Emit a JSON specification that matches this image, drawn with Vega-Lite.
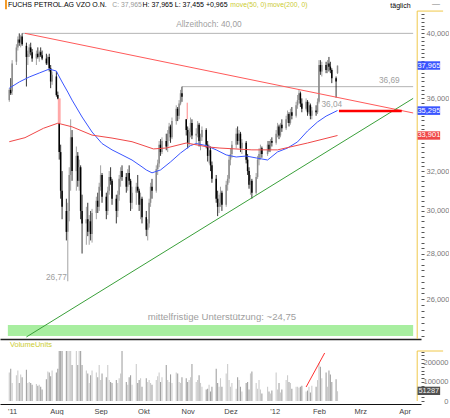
{
"$schema": "https://vega.github.io/schema/vega-lite/v6.json",
"padding": 0,
"bounds": "flush",
"spacing": 12,
"config": {"font": "Liberation Sans", "view": {"stroke": null}},
"resolve": {"scale": {"x": "independent", "y": "independent"}, "axis": {"x": "independent", "y": "independent"}},
"datasets": {
"cd": [
{"d":"2011-06-29","o":35.9,"h":36.6,"l":35.8,"c":36.5,"v":150000},
{"d":"2011-06-30","o":36.5,"h":37.2,"l":36.2,"c":36.3,"v":170000},
{"d":"2011-07-01","o":36.4,"h":38.3,"l":36.2,"c":38.1,"v":95000},
{"d":"2011-07-04","o":38.2,"h":39.3,"l":38.0,"c":39.1,"v":135000},
{"d":"2011-07-05","o":39.1,"h":39.8,"l":38.9,"c":39.6,"v":160000},
{"d":"2011-07-06","o":39.6,"h":40.0,"l":39.2,"c":39.4,"v":95000},
{"d":"2011-07-07","o":39.4,"h":39.9,"l":39.1,"c":39.8,"v":140000},
{"d":"2011-07-08","o":39.8,"h":40.0,"l":39.2,"c":39.3,"v":125000},
{"d":"2011-07-11","o":39.2,"h":39.4,"l":36.7,"c":38.5,"v":165000},
{"d":"2011-07-12","o":38.5,"h":38.9,"l":38.0,"c":38.7,"v":95000},
{"d":"2011-07-13","o":38.7,"h":39.3,"l":38.5,"c":39.1,"v":100000},
{"d":"2011-07-14","o":39.1,"h":39.4,"l":38.6,"c":38.8,"v":95000},
{"d":"2011-07-15","o":38.8,"h":39.0,"l":38.2,"c":38.4,"v":85000},
{"d":"2011-07-18","o":38.4,"h":38.9,"l":38.0,"c":38.7,"v":90000},
{"d":"2011-07-19","o":38.7,"h":39.1,"l":38.4,"c":38.5,"v":80000},
{"d":"2011-07-20","o":38.5,"h":38.9,"l":38.2,"c":38.8,"v":85000},
{"d":"2011-07-21","o":38.8,"h":39.1,"l":38.5,"c":38.6,"v":75000},
{"d":"2011-07-22","o":38.6,"h":38.9,"l":38.3,"c":38.4,"v":60000},
{"d":"2011-07-25","o":38.4,"h":38.7,"l":38.0,"c":38.1,"v":115000},
{"d":"2011-07-26","o":38.1,"h":38.6,"l":38.0,"c":38.5,"v":155000},
{"d":"2011-07-27","o":38.5,"h":38.7,"l":37.6,"c":37.8,"v":150000},
{"d":"2011-07-28","o":37.8,"h":38.0,"l":36.6,"c":37.0,"v":130000},
{"d":"2011-07-29","o":37.0,"h":37.6,"l":36.8,"c":37.4,"v":160000},
{"d":"2011-08-01","o":37.3,"h":37.6,"l":36.1,"c":36.2,"v":150000},
{"d":"2011-08-02","o":36.2,"h":36.4,"l":35.95,"c":36.0,"v":170000},
{"d":"2011-08-03","o":34.6,"h":34.6,"l":32.6,"c":33.0,"v":300000},
{"d":"2011-08-04","o":33.0,"h":33.4,"l":30.6,"c":31.0,"v":320000},
{"d":"2011-08-05","o":31.0,"h":32.0,"l":29.6,"c":30.2,"v":350000},
{"d":"2011-08-08","o":30.0,"h":30.6,"l":28.6,"c":29.0,"v":400000},
{"d":"2011-08-09","o":29.0,"h":30.4,"l":26.77,"c":30.0,"v":380000},
{"d":"2011-08-10","o":30.0,"h":32.2,"l":29.5,"c":31.8,"v":300000},
{"d":"2011-08-11","o":31.8,"h":34.8,"l":31.0,"c":33.8,"v":290000},
{"d":"2011-08-12","o":33.8,"h":34.2,"l":31.5,"c":32.0,"v":190000},
{"d":"2011-08-15","o":32.0,"h":33.3,"l":31.0,"c":32.8,"v":280000},
{"d":"2011-08-16","o":32.8,"h":33.0,"l":31.2,"c":31.5,"v":190000},
{"d":"2011-08-17","o":31.5,"h":32.6,"l":31.0,"c":32.2,"v":270000},
{"d":"2011-08-18","o":32.2,"h":32.3,"l":29.6,"c":30.0,"v":300000},
{"d":"2011-08-19","o":30.0,"h":30.8,"l":28.0,"c":29.4,"v":190000},
{"d":"2011-08-22","o":29.4,"h":30.2,"l":28.4,"c":29.6,"v":160000},
{"d":"2011-08-23","o":29.6,"h":30.4,"l":28.8,"c":29.0,"v":145000},
{"d":"2011-08-24","o":29.0,"h":29.8,"l":28.4,"c":29.5,"v":95000},
{"d":"2011-08-25","o":29.5,"h":30.0,"l":28.6,"c":28.9,"v":135000},
{"d":"2011-08-26","o":28.9,"h":30.1,"l":28.5,"c":29.9,"v":160000},
{"d":"2011-08-29","o":29.9,"h":30.7,"l":29.6,"c":30.5,"v":150000},
{"d":"2011-08-30","o":30.5,"h":30.9,"l":29.9,"c":30.2,"v":125000},
{"d":"2011-08-31","o":30.2,"h":31.4,"l":30.0,"c":31.2,"v":190000},
{"d":"2011-09-01","o":31.2,"h":32.3,"l":31.0,"c":31.8,"v":110000},
{"d":"2011-09-02","o":31.8,"h":31.9,"l":30.4,"c":30.7,"v":145000},
{"d":"2011-09-05","o":30.7,"h":30.9,"l":29.6,"c":30.0,"v":125000},
{"d":"2011-09-06","o":30.0,"h":31.2,"l":29.8,"c":31.0,"v":190000},
{"d":"2011-09-07","o":31.0,"h":32.0,"l":30.8,"c":31.7,"v":110000},
{"d":"2011-09-08","o":31.7,"h":32.2,"l":31.3,"c":31.5,"v":100000},
{"d":"2011-09-09","o":31.5,"h":31.6,"l":30.3,"c":30.6,"v":95000},
{"d":"2011-09-12","o":30.6,"h":30.8,"l":29.4,"c":30.0,"v":110000},
{"d":"2011-09-13","o":30.0,"h":31.0,"l":29.7,"c":30.8,"v":95000},
{"d":"2011-09-14","o":30.8,"h":31.8,"l":30.5,"c":31.6,"v":120000},
{"d":"2011-09-15","o":31.6,"h":32.2,"l":31.2,"c":32.0,"v":145000},
{"d":"2011-09-16","o":32.0,"h":32.3,"l":31.5,"c":31.7,"v":280000},
{"d":"2011-09-19","o":31.7,"h":31.9,"l":30.9,"c":31.2,"v":100000},
{"d":"2011-09-20","o":31.2,"h":32.1,"l":31.0,"c":31.9,"v":85000},
{"d":"2011-09-21","o":31.9,"h":32.3,"l":31.3,"c":31.5,"v":125000},
{"d":"2011-09-22","o":31.5,"h":31.6,"l":30.0,"c":30.4,"v":135000},
{"d":"2011-09-23","o":30.4,"h":31.2,"l":30.1,"c":30.9,"v":85000},
{"d":"2011-09-26","o":30.9,"h":31.4,"l":30.3,"c":31.2,"v":195000},
{"d":"2011-09-27","o":31.2,"h":31.8,"l":30.9,"c":31.0,"v":95000},
{"d":"2011-09-28","o":31.0,"h":31.1,"l":30.0,"c":30.3,"v":110000},
{"d":"2011-09-29","o":30.3,"h":30.9,"l":29.6,"c":30.6,"v":120000},
{"d":"2011-09-30","o":30.6,"h":30.7,"l":29.4,"c":29.7,"v":75000},
{"d":"2011-10-03","o":29.7,"h":30.0,"l":28.8,"c":29.1,"v":120000},
{"d":"2011-10-04","o":29.1,"h":29.6,"l":28.6,"c":29.4,"v":100000},
{"d":"2011-10-05","o":29.4,"h":30.6,"l":29.2,"c":30.4,"v":110000},
{"d":"2011-10-06","o":30.4,"h":31.4,"l":30.2,"c":31.2,"v":95000},
{"d":"2011-10-07","o":31.2,"h":31.6,"l":30.6,"c":31.0,"v":85000},
{"d":"2011-10-10","o":31.0,"h":32.3,"l":30.9,"c":32.1,"v":110000},
{"d":"2011-10-11","o":32.1,"h":32.6,"l":31.8,"c":32.4,"v":130000},
{"d":"2011-10-12","o":32.4,"h":33.6,"l":32.2,"c":33.4,"v":150000},
{"d":"2011-10-13","o":33.4,"h":33.7,"l":32.8,"c":33.0,"v":100000},
{"d":"2011-10-14","o":33.0,"h":33.8,"l":32.9,"c":33.6,"v":125000},
{"d":"2011-10-17","o":33.6,"h":34.0,"l":33.1,"c":33.3,"v":190000},
{"d":"2011-10-18","o":33.3,"h":34.2,"l":33.0,"c":34.0,"v":110000},
{"d":"2011-10-19","o":34.0,"h":34.6,"l":33.6,"c":34.4,"v":100000},
{"d":"2011-10-20","o":34.4,"h":34.5,"l":33.5,"c":33.8,"v":140000},
{"d":"2011-10-21","o":33.8,"h":34.9,"l":33.7,"c":34.7,"v":95000},
{"d":"2011-10-24","o":34.7,"h":35.6,"l":34.5,"c":35.4,"v":150000},
{"d":"2011-10-25","o":35.4,"h":35.5,"l":34.7,"c":35.0,"v":145000},
{"d":"2011-10-26","o":35.0,"h":35.9,"l":34.8,"c":35.7,"v":100000},
{"d":"2011-10-27","o":35.7,"h":36.5,"l":35.6,"c":36.3,"v":95000},
{"d":"2011-10-28","o":36.3,"h":36.69,"l":35.8,"c":36.1,"v":125000},
{"d":"2011-10-31","o":34.8,"h":34.8,"l":33.9,"c":34.2,"v":120000},
{"d":"2011-11-01","o":34.2,"h":34.4,"l":33.2,"c":33.5,"v":100000},
{"d":"2011-11-02","o":33.5,"h":34.3,"l":33.3,"c":34.1,"v":110000},
{"d":"2011-11-03","o":34.1,"h":34.9,"l":33.8,"c":34.6,"v":125000},
{"d":"2011-11-04","o":34.6,"h":34.8,"l":33.7,"c":33.9,"v":195000},
{"d":"2011-11-07","o":33.9,"h":34.3,"l":33.4,"c":34.0,"v":100000},
{"d":"2011-11-08","o":34.0,"h":34.7,"l":33.8,"c":34.5,"v":110000},
{"d":"2011-11-09","o":34.5,"h":34.6,"l":33.3,"c":33.6,"v":135000},
{"d":"2011-11-10","o":33.6,"h":34.0,"l":33.1,"c":33.8,"v":95000},
{"d":"2011-11-11","o":33.8,"h":34.4,"l":33.6,"c":34.2,"v":75000},
{"d":"2011-11-14","o":34.2,"h":34.3,"l":33.2,"c":33.4,"v":60000},
{"d":"2011-11-15","o":33.4,"h":33.6,"l":32.5,"c":32.8,"v":65000},
{"d":"2011-11-16","o":32.8,"h":33.4,"l":32.4,"c":33.1,"v":85000},
{"d":"2011-11-17","o":33.1,"h":33.3,"l":32.0,"c":32.3,"v":50000},
{"d":"2011-11-18","o":32.3,"h":32.5,"l":31.4,"c":31.6,"v":75000},
{"d":"2011-11-21","o":31.6,"h":31.8,"l":30.4,"c":30.6,"v":170000},
{"d":"2011-11-22","o":30.6,"h":31.0,"l":29.75,"c":30.2,"v":95000},
{"d":"2011-11-23","o":30.2,"h":30.8,"l":29.9,"c":30.4,"v":75000},
{"d":"2011-11-24","o":30.4,"h":31.2,"l":30.2,"c":30.9,"v":120000},
{"d":"2011-11-25","o":30.9,"h":31.0,"l":30.0,"c":30.3,"v":75000},
{"d":"2011-11-28","o":30.3,"h":31.5,"l":30.2,"c":31.3,"v":145000},
{"d":"2011-11-29","o":31.3,"h":31.8,"l":31.0,"c":31.6,"v":195000},
{"d":"2011-11-30","o":31.6,"h":32.8,"l":31.4,"c":32.6,"v":110000},
{"d":"2011-12-01","o":32.6,"h":33.2,"l":32.3,"c":32.9,"v":75000},
{"d":"2011-12-02","o":32.9,"h":33.6,"l":32.7,"c":33.4,"v":95000},
{"d":"2011-12-05","o":33.4,"h":34.3,"l":33.2,"c":34.0,"v":65000},
{"d":"2011-12-06","o":34.0,"h":34.4,"l":33.4,"c":33.6,"v":125000},
{"d":"2011-12-07","o":33.6,"h":34.2,"l":33.4,"c":34.0,"v":110000},
{"d":"2011-12-08","o":34.0,"h":34.1,"l":33.0,"c":33.2,"v":75000},
{"d":"2011-12-09","o":33.2,"h":33.7,"l":32.9,"c":33.5,"v":50000},
{"d":"2011-12-12","o":33.5,"h":33.6,"l":32.4,"c":32.6,"v":95000},
{"d":"2011-12-13","o":32.6,"h":32.9,"l":31.8,"c":32.0,"v":100000},
{"d":"2011-12-14","o":32.0,"h":32.2,"l":31.1,"c":31.3,"v":60000},
{"d":"2011-12-15","o":31.3,"h":31.8,"l":30.8,"c":31.5,"v":145000},
{"d":"2011-12-16","o":31.5,"h":31.6,"l":30.6,"c":30.9,"v":155000},
{"d":"2011-12-19","o":30.9,"h":31.9,"l":30.8,"c":31.7,"v":95000},
{"d":"2011-12-20","o":31.7,"h":32.8,"l":31.6,"c":32.6,"v":65000},
{"d":"2011-12-21","o":32.6,"h":33.2,"l":32.3,"c":32.9,"v":110000},
{"d":"2011-12-22","o":32.9,"h":33.4,"l":32.6,"c":33.2,"v":60000},
{"d":"2011-12-23","o":33.2,"h":33.3,"l":32.7,"c":32.9,"v":40000},
{"d":"2011-12-27","o":32.9,"h":33.6,"l":32.8,"c":33.4,"v":75000},
{"d":"2011-12-28","o":33.4,"h":33.6,"l":33.0,"c":33.1,"v":50000},
{"d":"2011-12-29","o":33.1,"h":33.7,"l":33.0,"c":33.6,"v":40000},
{"d":"2011-12-30","o":33.6,"h":33.8,"l":33.3,"c":33.5,"v":55000},
{"d":"2012-01-02","o":33.5,"h":34.2,"l":33.4,"c":34.0,"v":150000},
{"d":"2012-01-03","o":34.0,"h":34.6,"l":33.8,"c":34.4,"v":60000},
{"d":"2012-01-04","o":34.4,"h":34.5,"l":33.7,"c":33.9,"v":95000},
{"d":"2012-01-05","o":33.9,"h":34.6,"l":33.8,"c":34.5,"v":45000},
{"d":"2012-01-06","o":34.5,"h":34.8,"l":34.1,"c":34.3,"v":60000},
{"d":"2012-01-09","o":34.3,"h":35.0,"l":34.2,"c":34.8,"v":110000},
{"d":"2012-01-10","o":34.8,"h":35.3,"l":34.6,"c":35.1,"v":135000},
{"d":"2012-01-11","o":35.1,"h":35.2,"l":34.4,"c":34.6,"v":100000},
{"d":"2012-01-12","o":34.6,"h":35.4,"l":34.5,"c":35.2,"v":95000},
{"d":"2012-01-13","o":35.2,"h":35.5,"l":34.8,"c":35.0,"v":65000},
{"d":"2012-01-16","o":35.0,"h":35.8,"l":34.9,"c":35.6,"v":75000},
{"d":"2012-01-17","o":35.6,"h":36.2,"l":35.4,"c":35.9,"v":75000},
{"d":"2012-01-18","o":35.9,"h":36.5,"l":35.7,"c":36.3,"v":70000},
{"d":"2012-01-19","o":36.3,"h":36.4,"l":35.5,"c":35.7,"v":75000},
{"d":"2012-01-20","o":35.7,"h":36.0,"l":35.2,"c":35.4,"v":80000},
{"d":"2012-01-23","o":35.4,"h":36.0,"l":35.3,"c":35.8,"v":50000},
{"d":"2012-01-24","o":35.8,"h":35.9,"l":35.0,"c":35.2,"v":55000},
{"d":"2012-01-25","o":35.2,"h":35.8,"l":35.1,"c":35.6,"v":75000},
{"d":"2012-01-26","o":35.6,"h":35.7,"l":34.8,"c":35.0,"v":45000},
{"d":"2012-01-27","o":35.0,"h":35.5,"l":34.8,"c":35.3,"v":80000},
{"d":"2012-01-30","o":35.3,"h":35.6,"l":35.0,"c":35.2,"v":75000},
{"d":"2012-01-31","o":35.2,"h":36.0,"l":35.1,"c":35.8,"v":110000},
{"d":"2012-02-01","o":35.8,"h":38.3,"l":35.7,"c":38.0,"v":200000},
{"d":"2012-02-02","o":38.0,"h":38.3,"l":37.4,"c":37.6,"v":180000},
{"d":"2012-02-03","o":37.6,"h":38.2,"l":37.3,"c":38.0,"v":120000},
{"d":"2012-02-06","o":38.0,"h":38.2,"l":37.5,"c":37.7,"v":150000},
{"d":"2012-02-07","o":37.7,"h":38.3,"l":37.5,"c":38.1,"v":75000},
{"d":"2012-02-08","o":38.1,"h":38.5,"l":37.6,"c":37.9,"v":160000},
{"d":"2012-02-09","o":37.9,"h":38.2,"l":37.5,"c":37.7,"v":140000},
{"d":"2012-02-10","o":37.7,"h":37.8,"l":36.9,"c":37.2,"v":100000},
{"d":"2012-02-13","o":37.2,"h":37.3,"l":36.04,"c":37.0,"v":115000},
{"d":"2012-02-14","o":37.5,"h":37.965,"l":37.455,"c":37.965,"v":51287}
],
"lines": [
{"d":"2011-06-29","p":36.6,"s":"ma50"},{"d":"2011-07-06","p":36.97,"s":"ma50"},{"d":"2011-07-13","p":37.27,"s":"ma50"},{"d":"2011-07-20","p":37.51,"s":"ma50"},{"d":"2011-07-27","p":37.75,"s":"ma50"},{"d":"2011-08-01","p":37.63,"s":"ma50"},{"d":"2011-08-02","p":37.45,"s":"ma50"},{"d":"2011-08-05","p":36.97,"s":"ma50"},{"d":"2011-08-09","p":36.37,"s":"ma50"},{"d":"2011-08-12","p":35.9,"s":"ma50"},{"d":"2011-08-19","p":34.93,"s":"ma50"},{"d":"2011-08-26","p":34.09,"s":"ma50"},{"d":"2011-09-02","p":33.46,"s":"ma50"},{"d":"2011-09-09","p":33.12,"s":"ma50"},{"d":"2011-09-16","p":32.85,"s":"ma50"},{"d":"2011-09-23","p":32.58,"s":"ma50"},{"d":"2011-09-30","p":32.22,"s":"ma50"},{"d":"2011-10-03","p":32.06,"s":"ma50"},{"d":"2011-10-07","p":31.91,"s":"ma50"},{"d":"2011-10-13","p":32.06,"s":"ma50"},{"d":"2011-10-20","p":32.48,"s":"ma50"},{"d":"2011-10-27","p":32.95,"s":"ma50"},{"d":"2011-11-03","p":33.35,"s":"ma50"},{"d":"2011-11-07","p":33.46,"s":"ma50"},{"d":"2011-11-14","p":33.35,"s":"ma50"},{"d":"2011-11-21","p":33.12,"s":"ma50"},{"d":"2011-11-28","p":32.85,"s":"ma50"},{"d":"2011-12-05","p":32.74,"s":"ma50"},{"d":"2011-12-12","p":32.79,"s":"ma50"},{"d":"2011-12-19","p":32.69,"s":"ma50"},{"d":"2011-12-27","p":32.58,"s":"ma50"},{"d":"2012-01-03","p":33.01,"s":"ma50"},{"d":"2012-01-10","p":33.22,"s":"ma50"},{"d":"2012-01-17","p":33.55,"s":"ma50"},{"d":"2012-01-24","p":34.15,"s":"ma50"},{"d":"2012-01-31","p":34.65,"s":"ma50"},{"d":"2012-02-06","p":34.98,"s":"ma50"},{"d":"2012-02-14","p":35.3,"s":"ma50"},
{"d":"2011-06-29","p":33.56,"s":"ma200"},{"d":"2011-07-10","p":33.78,"s":"ma200"},{"d":"2011-07-23","p":34.3,"s":"ma200"},{"d":"2011-08-02","p":34.58,"s":"ma200"},{"d":"2011-08-12","p":34.38,"s":"ma200"},{"d":"2011-08-26","p":33.92,"s":"ma200"},{"d":"2011-09-09","p":33.76,"s":"ma200"},{"d":"2011-09-23","p":33.56,"s":"ma200"},{"d":"2011-09-30","p":33.38,"s":"ma200"},{"d":"2011-10-08","p":33.17,"s":"ma200"},{"d":"2011-10-17","p":33.22,"s":"ma200"},{"d":"2011-10-31","p":33.49,"s":"ma200"},{"d":"2011-11-15","p":33.28,"s":"ma200"},{"d":"2011-11-23","p":33.22,"s":"ma200"},{"d":"2011-12-16","p":33.12,"s":"ma200"},{"d":"2012-01-03","p":33.12,"s":"ma200"},{"d":"2012-01-24","p":33.49,"s":"ma200"},{"d":"2012-02-14","p":33.9,"s":"ma200"},
{"d":"2011-07-10","p":40.0,"s":"down"},{"d":"2012-04-07","p":35.16,"s":"down"},
{"d":"2011-07-11","p":24.46,"s":"up"},{"d":"2012-04-07","p":36.0,"s":"up"}
]
},
"vconcat": [
{
"width": 421, "height": 339,
"encoding": {
"x": {"field": "d", "type": "temporal", "title": null,
 "scale": {"domain": [{"year": 2011, "month": 6, "date": 26}, {"year": 2012, "month": 4, "date": 9}], "nice": false},
 "axis": {"labels": false, "ticks": false, "domain": true, "domainColor": "#222222", "domainWidth": 1.5, "grid": false, "title": null}},
"y": {"field": "p", "type": "quantitative", "title": null,
 "scale": {"type": "log", "domain": [24.38, 42.22], "nice": false, "zero": false},
 "axis": {"orient": "right", "title": null, "grid": false, "domain": false, "zindex": 0,
  "values": [24.5,24.75,25,25.25,25.5,25.75,26,26.25,26.5,26.75,27,27.25,27.5,27.75,28,28.25,28.5,28.75,29,29.25,29.5,29.75,30,30.25,30.5,30.75,31,31.25,31.5,31.75,32,32.25,32.5,32.75,33,33.25,33.5,33.75,34,34.25,34.5,34.75,35,35.25,35.5,35.75,36,36.25,36.5,36.75,37,37.25,37.5,37.75,38,38.25,38.5,38.75,39,39.25,39.5,39.75,40,40.25,40.5,40.75,41,41.25],
  "labelExpr": "indexof([26,28,30,32,36,40], datum.value) >= 0 ? replace(format(datum.value, '.3f'), '.', ',') : ''",
  "tickSize": 3, "tickColor": "#555555", "tickWidth": 1, "labelPadding": 2, "labelFontSize": 7.5, "labelColor": "#7a7a7a",
  "labelOverlap": false, "labelBound": false, "labelFlush": false}}
},
"layer": [
{"data": {"values": [{"d": "2011-06-28", "d2": "2012-04-07", "p": 24.5, "p2": 24.94}]},
 "mark": {"type": "rect", "color": "#a8eea0"}, "encoding": {"x2": {"field": "d2"}, "y2": {"field": "p2"}}},
{"data": {"values": [{"d": "2011-08-02", "d2": "2011-08-04", "p": 34.6, "p2": 36.0}, {"d": "2011-10-31T06:00", "d2": "2011-11-01T06:00", "p": 34.8, "p2": 35.75}]},
 "mark": {"type": "rect", "color": "#ffa8a8"}, "encoding": {"x2": {"field": "d2"}, "y2": {"field": "p2"}}},
{"data": {"values": [{"d": "2011-07-08", "d2": "2012-04-07", "p": 40.0}, {"d": "2011-10-28", "d2": "2012-04-07", "p": 36.69}]},
 "mark": {"type": "rule", "color": "#b4b4b4", "strokeWidth": 1}, "encoding": {"x2": {"field": "d2"}}},
{"data": {"name": "cd"},
 "mark": {"type": "rule", "strokeWidth": 0.8},
 "encoding": {"y": {"field": "l", "type": "quantitative", "title": null}, "y2": {"field": "h"},
  "color": {"condition": {"test": "datum.c >= datum.o", "value": "#8a8a8a"}, "value": "#000000"}}},
{"data": {"name": "cd"},
 "mark": {"type": "bar", "size": 1.5},
 "encoding": {"y": {"field": "o", "type": "quantitative", "title": null}, "y2": {"field": "c"},
  "color": {"condition": {"test": "datum.c >= datum.o", "value": "#8a8a8a"}, "value": "#000000"}}},
{"data": {"name": "lines"},
 "mark": {"type": "line", "strokeWidth": 1},
 "encoding": {"color": {"field": "s", "type": "nominal", "legend": null,
  "scale": {"domain": ["ma50", "ma200", "down", "up"], "range": ["#3a55ff", "#f04848", "#ff5a5a", "#3aa03a"]}}}},
{"data": {"values": [{"d": "2012-02-15", "d2": "2012-03-30", "p": 35.27}]},
 "mark": {"type": "rule", "color": "#ff0000", "strokeWidth": 2.5}, "encoding": {"x2": {"field": "d2"}}},
{"data": {"values": [
  {"d": "2011-11-15T21:00", "p": 40.54, "t": "Allzeithoch: 40,00"},
  {"d": "2012-03-21T07:00", "p": 37.03, "t": "36,69"},
  {"d": "2012-02-10", "p": 35.62, "t": "36,04"},
  {"d": "2011-08-01", "p": 26.91, "t": "26,77"}]},
 "mark": {"type": "text", "align": "center", "baseline": "middle", "fontSize": 8.3, "color": "#a0a0a0"},
 "encoding": {"text": {"field": "t"}}},
{"data": {"values": [
  {"d": "2011-11-25", "p": 25.27, "t": "mittelfristige Unterstützung: ~24,75"}]},
 "mark": {"type": "text", "align": "center", "baseline": "middle", "fontSize": 9.6, "color": "#a0a0a0"},
 "encoding": {"text": {"field": "t"}}},
{"data": {"values": [
  {"d": "2011-06-28T01:00", "p": 41.86, "t": "FUCHS PETROL.AG VZO O.N."},
  {"d": "2011-09-30T08:00", "p": 41.86, "t": "H: 37,965 L: 37,455 +0,965"},
  {"d": "2012-03-22", "p": 41.83, "t": "täglich"}]},
 "mark": {"type": "text", "align": "left", "baseline": "middle", "fontSize": 7, "color": "#000000"},
 "encoding": {"text": {"field": "t"}}},
{"data": {"values": [{"d": "2011-09-09T05:00", "p": 41.86, "t": "C: 37,965"}]},
 "mark": {"type": "text", "align": "left", "baseline": "middle", "fontSize": 6.8, "color": "#999999"},
 "encoding": {"text": {"field": "t"}}},
{"data": {"values": [{"d": "2011-11-30T21:00", "p": 41.86, "t": "move(50, 0)"}, {"d": "2011-12-26T21:00", "p": 41.86, "t": "move(200, 0)"}]},
 "mark": {"type": "text", "align": "left", "baseline": "middle", "fontSize": 6.8, "color": "#cccc33"},
 "encoding": {"text": {"field": "t"}}},
{"data": {"values": [{"d": "2012-04-23", "p": 41.94, "t": "—"}]},
 "mark": {"type": "text", "align": "center", "baseline": "middle", "fontSize": 8, "color": "#777777"},
 "encoding": {"text": {"field": "t"}}},
{"data": {"values": [{"d": "2011-06-26", "d2": "2011-06-27T09:00", "p": 41.6, "p2": 42.22}]},
 "mark": {"type": "rect", "color": "#f59a23"}, "encoding": {"x2": {"field": "d2"}, "y2": {"field": "p2"}}},
{"data": {"values": [{"d": "2012-04-09T20:00", "p": 24.38, "p2": 41.47}]},
 "mark": {"type": "rule", "color": "#f0c84a", "strokeWidth": 1}, "encoding": {"y2": {"field": "p2"}}},
{"data": {"values": [{"d": "2012-04-09T20:00", "d2": "2012-04-28", "p": 41.47}]},
 "mark": {"type": "rule", "color": "#f0c84a", "strokeWidth": 1}, "encoding": {"x2": {"field": "d2"}}},
{"data": {"values": [
  {"d": "2012-04-10T02:00", "d2": "2012-04-25T22:00", "p": 37.71, "p2": 38.23, "k": "close"},
  {"d": "2012-04-10T02:00", "d2": "2012-04-25T22:00", "p": 35.05, "p2": 35.54, "k": "ma50"},
  {"d": "2012-04-10T02:00", "d2": "2012-04-25T22:00", "p": 33.67, "p2": 34.13, "k": "ma200"}]},
 "mark": {"type": "rect"},
 "encoding": {"x2": {"field": "d2"}, "y2": {"field": "p2"},
  "color": {"field": "k", "type": "nominal", "legend": null, "scale": {"domain": ["close", "ma50", "ma200"], "range": ["#585858", "#0a0aee", "#ee1010"]}}}},
{"data": {"values": [
  {"d": "2012-04-18", "p": 37.965, "t": "37,965"},
  {"d": "2012-04-18", "p": 35.295, "t": "35,295"},
  {"d": "2012-04-18", "p": 33.901, "t": "33,901"}]},
 "mark": {"type": "text", "align": "center", "baseline": "middle", "fontSize": 7.5, "color": "#ffffff"},
 "encoding": {"text": {"field": "t"}}}
]
},
{
"width": 421, "height": 50,
"encoding": {
"x": {"field": "d", "type": "temporal", "title": null,
 "scale": {"domain": [{"year": 2011, "month": 6, "date": 26}, {"year": 2012, "month": 4, "date": 9}], "nice": false},
 "axis": {"orient": "bottom", "offset": 3, "ticks": false, "domain": true, "domainColor": "#111111", "domainWidth": 1.2, "grid": false, "title": null,
  "values": [{"year": 2011, "month": 7, "date": 1}, {"year": 2011, "month": 8, "date": 1}, {"year": 2011, "month": 9, "date": 1}, {"year": 2011, "month": 10, "date": 1}, {"year": 2011, "month": 11, "date": 1}, {"year": 2011, "month": 12, "date": 1}, {"year": 2012, "month": 1, "date": 1}, {"year": 2012, "month": 2, "date": 1}, {"year": 2012, "month": 3, "date": 1}, {"year": 2012, "month": 4, "date": 1}],
  "labelExpr": "month(datum.value) == 6 ? \"'11\" : (month(datum.value) == 0 ? \"'12\" : ['Jan','Feb','Mrz','Apr','Mai','Jun','Jul','Aug','Sep','Okt','Nov','Dez'][month(datum.value)])",
  "labelFontSize": 7.5, "labelColor": "#444444", "labelPadding": 3, "labelFlush": false, "labelOverlap": false, "labelAlign": "center"}},
"y": {"field": "v", "type": "quantitative", "title": null,
 "scale": {"domain": [0, 263000], "nice": false, "zero": true},
 "axis": {"orient": "right", "title": null, "grid": false, "domain": false, "zindex": 0,
  "values": [0,20000,40000,60000,80000,100000,120000,140000,160000,180000,200000,220000,240000,260000],
  "labelExpr": "(datum.value == 0 || datum.value == 100000 || datum.value == 200000) ? format(datum.value, 'd') : ''",
  "tickSize": 3, "tickColor": "#555555", "labelAlign": "right", "labelPadding": 24, "labelFontSize": 7.5, "labelColor": "#7a7a7a",
  "labelOverlap": false, "labelBound": false, "labelFlush": false}}
},
"layer": [
{"data": {"name": "cd"},
 "mark": {"type": "bar", "size": 1.1, "clip": true},
 "encoding": {"color": {"condition": {"test": "datum.c >= datum.o", "value": "#cccccc"}, "value": "#a2a2a2"}}},
{"data": {"values": [{"d": "2012-01-23", "v": 73600}, {"d": "2012-02-05", "v": 252500}]},
 "mark": {"type": "line", "color": "#ff3030", "strokeWidth": 1}, "encoding": {}},
{"data": {"values": [{"d": "2011-06-29T10:00", "v": 294000, "t": "VolumeUnits"}]},
 "mark": {"type": "text", "align": "left", "baseline": "middle", "fontSize": 7.5, "color": "#cccc33"},
 "encoding": {"text": {"field": "t"}}},
{"data": {"values": [{"d": "2012-04-09T20:00", "v": 0, "v2": 263000}]},
 "mark": {"type": "rule", "color": "#f0c84a", "strokeWidth": 1}, "encoding": {"y2": {"field": "v2"}}},
{"data": {"values": [{"d": "2012-04-09T20:00", "d2": "2012-04-28", "v": 263000}]},
 "mark": {"type": "rule", "color": "#f0c84a", "strokeWidth": 1}, "encoding": {"x2": {"field": "d2"}}},
{"data": {"values": [{"d": "2012-04-10T02:00", "d2": "2012-04-25T22:00", "v": 31600, "v2": 75200}]},
 "mark": {"type": "rect", "color": "#505050"}, "encoding": {"x2": {"field": "d2"}, "y2": {"field": "v2"}}},
{"data": {"values": [{"d": "2012-04-18", "v": 51287, "t": "51287"}]},
 "mark": {"type": "text", "align": "center", "baseline": "middle", "fontSize": 7.5, "color": "#f0f0f0"},
 "encoding": {"text": {"field": "t"}}}
]
}
]
}
